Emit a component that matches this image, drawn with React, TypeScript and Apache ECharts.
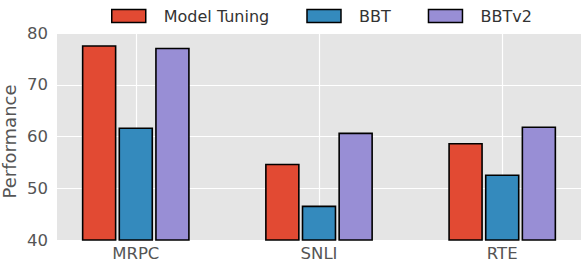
import React, { useEffect, useRef } from "react";
import * as echarts from "echarts";

const categories = ["MRPC", "SNLI", "RTE"];
const seriesNames = ["Model Tuning", "BBT", "BBTv2"];
const modelTuning = [77.5, 54.6, 58.6];
const bbt = [61.6, 46.5, 52.5];
const bbtv2 = [77.0, 60.6, 61.8];
const yTicks = [40, 50, 60, 70, 80];

const colors = ["#E24A33", "#348ABD", "#988ED5"];
const offsets = [-0.2, 0, 0.2];
const BAR_W = 0.18;
const Y_MIN = 40;
const FONT = "DejaVu Sans";

export default function App() {
  const ref = useRef<HTMLDivElement>(null);
  useEffect(() => {
    if (!ref.current) return;
    const chart = echarts.init(ref.current, null, { renderer: "svg" });
    const allValues = [modelTuning, bbt, bbtv2];
    const series = allValues.map((vals, si) => ({
      name: seriesNames[si],
      type: "custom",
      itemStyle: { color: colors[si], borderColor: "#000", borderWidth: 1.5 },
      encode: { x: 0, y: 1 },
      data: vals.map((v, i) => [i, v]),
      renderItem: (params: any, api: any) => {
        const x = api.value(0) + offsets[si];
        const y = api.value(1);
        const p0 = api.coord([x - BAR_W / 2, y]);
        const p1 = api.coord([x + BAR_W / 2, Y_MIN]);
        return {
          type: "rect",
          shape: { x: p0[0], y: p0[1], width: p1[0] - p0[0], height: p1[1] - p0[1] },
          style: { fill: colors[si], stroke: "#000", lineWidth: 1.6 },
        };
      },
      z: 10,
    }));
    chart.setOption({
      animation: false,
      textStyle: { fontFamily: FONT },
      legend: {
        top: 3,
        left: 106,
        icon: "rect",
        itemWidth: 34,
        itemHeight: 13,
        itemGap: 37,
        data: seriesNames.map((n, i) => ({
          name: n,
          itemStyle: { color: colors[i], borderColor: "#000", borderWidth: 1.5 },
        })),
        textStyle: { fontFamily: FONT, fontSize: 16, color: "#333", padding: [0, 0, 0, 13] },
      },
      grid: {
        left: 57,
        right: 3,
        top: 33,
        bottom: 22,
        show: true,
        backgroundColor: "#E5E5E5",
        borderWidth: 0,
        outerBoundsMode: "none",
        containLabel: false,
      },
      xAxis: {
        type: "value",
        min: -0.43,
        max: 2.43,
        splitNumber: 3,
        axisLine: { show: false },
        axisTick: { show: false },
        axisLabel: {
          customValues: categories.map((_, i) => i),
          formatter: (v: number) => categories[Math.round(v)] ?? "",
          fontFamily: FONT,
          fontSize: 16.5,
          color: "#555",
          margin: 5,
        },
        splitLine: {
          show: true,
          showMinLine: false,
          showMaxLine: false,
          lineStyle: { color: "#fff", width: 1.2 },
        },
      },
      yAxis: {
        type: "value",
        min: yTicks[0],
        max: yTicks[yTicks.length - 1],
        interval: 10,
        name: "Performance",
        nameLocation: "middle",
        nameGap: 39,
        nameMoveOverlap: false,
        nameTextStyle: {
          fontFamily: FONT,
          fontSize: 18,
          color: "#555",
          padding: [0, 10, 0, 0],
        },
        axisLine: { show: false },
        axisTick: { show: false },
        axisLabel: { fontFamily: FONT, fontSize: 16.5, color: "#555", margin: 9 },
        splitLine: { show: true, lineStyle: { color: "#fff", width: 1.2 } },
      },
      series,
    });
    return () => chart.dispose();
  }, []);
  return (
    <div
      ref={ref}
      style={{ position: "absolute", left: 0, top: 0, width: 584, height: 262 }}
    />
  );
}
